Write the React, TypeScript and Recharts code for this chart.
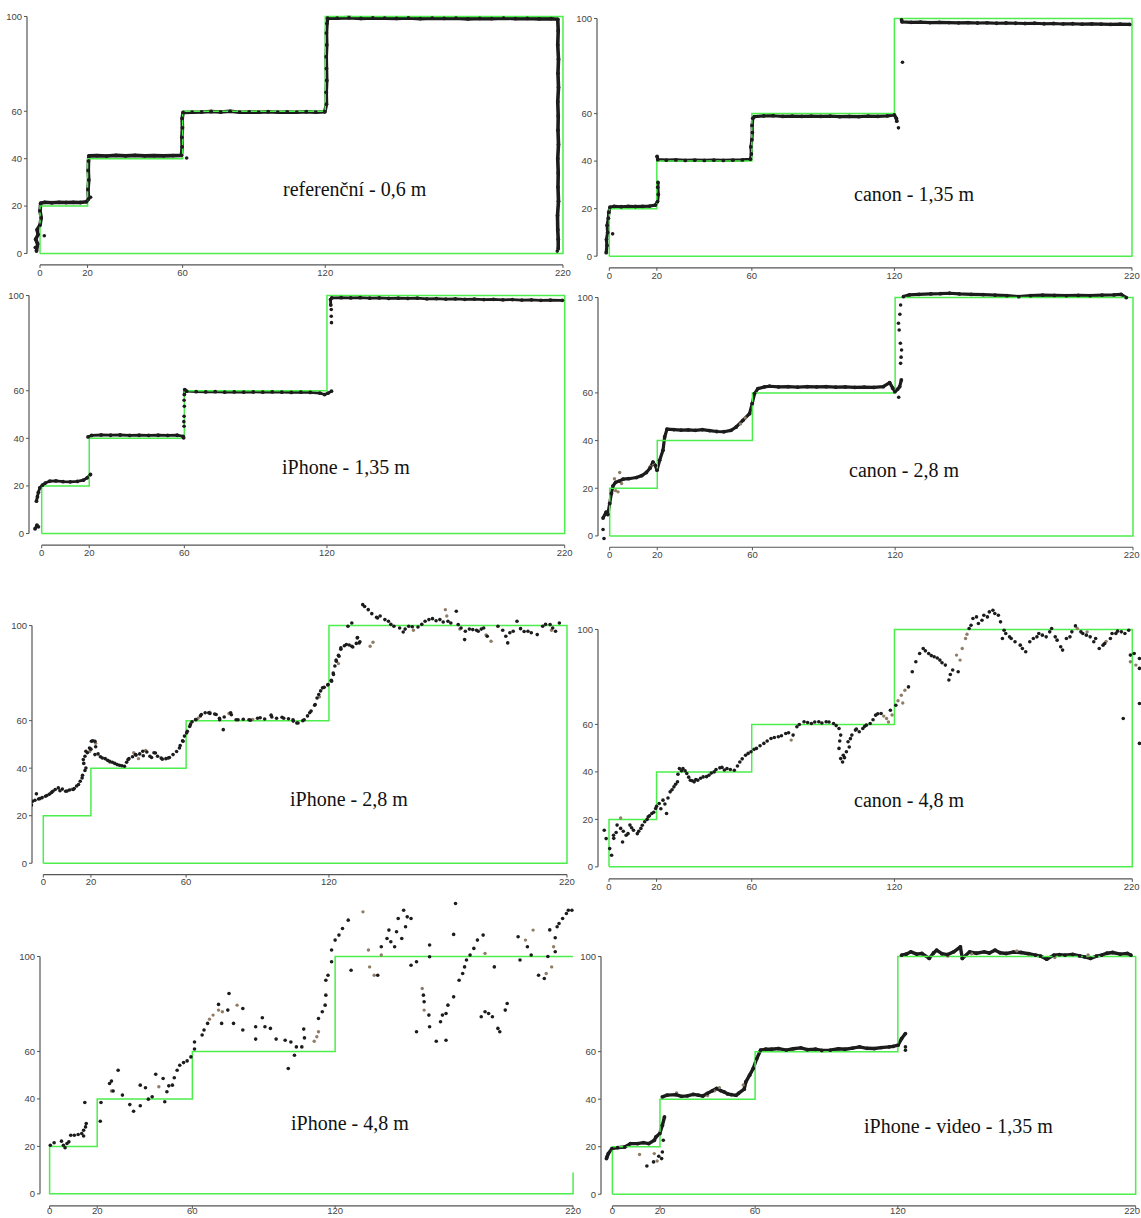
import { ComposedChart, Line, Scatter, XAxis, YAxis, ReferenceLine } from "recharts";

type Pt = [number, number] | null;

const xTicks = [0, 20, 60, 120, 220];
const yTicks = [0, 20, 40, 60, 100];

// green target profile
const profile: Pt[] = [[0, 0], [0, 20], [20, 20], [20, 40], [60, 40], [60, 60], [120, 60], [120, 100], [220, 100], [220, 0], [0, 0]];
// same profile, right edge only partly drawn (iPhone 4,8 m)
const profileOpen: Pt[] = [[220, 9], [220, 0], [0, 0], [0, 20], [20, 20], [20, 40], [60, 40], [60, 60], [120, 60], [120, 100], [220, 100]];

// referenční - 0,6 m
const refTrace: Pt[] = [
  [-1.5, 1], [-1, 4], [-1.8, 6], [-0.8, 8], [-1.2, 10], [0, 12], [0.5, 15], [0, 18], [0.3, 21.2], [2, 21.6], [5, 21.4], [8, 21.6],
  [11, 21.5], [14, 21.6], [17, 21.5], [19.5, 21.8], [20.4, 23], [20.2, 27], [20.5, 31], [20.3, 35], [20.4, 39], [20.6, 41.2],
  [24, 41.3], [28, 41.1], [32, 41.4], [36, 41.2], [40, 41.4], [44, 41.2], [48, 41.3], [52, 41.2], [56, 41.3], [59.5, 41.4],
  [59.8, 45], [59.7, 49], [59.9, 53], [59.8, 57], [60.2, 59.5], [64, 59.6], [68, 59.7], [72, 59.9], [76, 59.7], [80, 60],
  [84, 59.6], [88, 59.7], [92, 59.6], [96, 59.8], [100, 59.6], [104, 59.7], [108, 59.6], [112, 59.8], [116, 59.6], [119.8, 59.8],
  [120.5, 63], [120.4, 68], [120.6, 73], [120.5, 78], [120.4, 83], [120.6, 88], [120.5, 93], [120.7, 97], [121, 99.3],
  [125, 99.3], [130, 99.5], [135, 99.2], [140, 99.4], [145, 99.3], [150, 99.2], [155, 99.4], [160, 99.1], [165, 99.3],
  [170, 99.2], [175, 99.3], [180, 99], [185, 99.2], [190, 99.1], [195, 99.3], [200, 99.1], [205, 99.2], [210, 99], [215, 99.1],
  [217.8, 98.8], [218, 94], [217.8, 88], [218.1, 82], [217.9, 76], [218.1, 70], [217.8, 64], [218, 58], [217.9, 52], [218.1, 46],
  [217.8, 40], [218, 34], [217.9, 28], [218.1, 22], [217.7, 16], [217.8, 10], [218, 6], [218, 2],
];
const refStray: Pt[] = [[1.8, 7.5], [21.3, 23.7], [61.7, 40.3], [-2, 2.5], [217.6, 1]];

// canon - 1,35 m
const canon135Trace: Pt[] = [
  [-1.3, 1.5], [-1, 4.5], [-1.2, 7], [-0.7, 10], [-0.9, 13], [-0.4, 16], [-0.2, 18.5], [0.3, 20.6], [2, 21], [5, 20.8], [8, 21],
  [11, 20.9], [14, 21], [17, 21.1], [19.4, 21.5], [20.3, 23], [20.6, 26], [20.4, 29], [20.5, 31], null,
  [20.1, 42], [20.4, 40.6], [24, 40.4], [28, 40.5], [32, 40.3], [36, 40.4], [40, 40.3], [44, 40.4], [48, 40.3], [52, 40.4],
  [56, 40.5], [59.4, 40.8], [59.8, 43], [59.6, 46], [60, 49], [60.2, 52], [60.1, 55], [60.4, 58], [61, 58.7], [65, 59], [69, 59.1],
  [73, 58.8], [77, 58.9], [81, 58.8], [85, 58.9], [89, 58.8], [93, 58.9], [97, 58.7], [101, 58.8], [105, 58.7], [109, 58.9],
  [113, 58.8], [117, 59], [120, 59.4], [120.8, 58], [121, 56.8], null,
  [123, 99.4], [123.2, 98.6], [127, 98.4], [131, 98.5], [135, 98.3], [139, 98.4], [143, 98.3], [147, 98.2], [151, 98.3],
  [155, 98.1], [159, 98.2], [163, 98], [167, 98.1], [171, 98], [175, 97.9], [179, 98], [183, 97.8], [187, 97.9], [191, 97.7],
  [195, 97.8], [199, 97.6], [203, 97.7], [207, 97.6], [211, 97.5], [215, 97.6], [219, 97.5],
];
const canon135Stray: Pt[] = [[1.4, 9.4], [121.7, 54], [123.4, 81.6]];

// iPhone - 1,35 m
const iphone135Trace: Pt[] = [
  [-2.8, 2], [-2, 3.5], [-1.4, 2.8], null,
  [-2.2, 13.6], [-1.8, 15.5], [-1.4, 17.3], [-0.8, 19.2], [0.3, 20.3], [1.5, 21.2], [3.4, 22], [6, 22.1], [9, 21.8], [12, 21.7],
  [15, 21.9], [17.5, 22.4], [19.1, 23.4], [20.5, 24.8], null,
  [19.5, 40.6], [21, 41.2], [25, 41.4], [29, 41.3], [33, 41.4], [37, 41.2], [41, 41.3], [45, 41.2], [49, 41.3], [53, 41.2],
  [57, 41.3], [59.5, 40.8], [59.7, 40.2], null,
  [60, 58.4], [60.2, 60.5], [61, 59.8], [65, 59.6], [69, 59.5], [73, 59.6], [77, 59.4], [81, 59.5], [85, 59.4], [89, 59.5],
  [93, 59.4], [97, 59.5], [101, 59.4], [105, 59.3], [109, 59.4], [113, 59.3], [117, 59], [119, 58.4], [120.5, 59], [121.9, 59.8], null,
  [121.6, 96], [121.5, 98.3], [122, 99], [126, 99.1], [130, 99], [134, 99.1], [138, 98.9], [142, 99], [146, 98.8], [150, 98.9],
  [154, 98.8], [158, 98.9], [162, 98.6], [166, 98.7], [170, 98.5], [174, 98.6], [178, 98.4], [182, 98.5], [186, 98.3],
  [190, 98.4], [194, 98.2], [198, 98.3], [202, 98.1], [206, 98.2], [210, 98], [214, 98.1], [219, 98],
];
const iphone135Stray: Pt[] = [
  [59.9, 45.1], [59.8, 47], [59.9, 49.3], [60, 53.5], [59.9, 56], [121.8, 94.1], [121.8, 91.3], [121.9, 88.6],
];

// canon - 2,8 m
const canon28Trace: Pt[] = [
  [-2.8, 7.5], [-1.5, 10], [-0.8, 9], [0, 13.6], [0.7, 17.8], [1.4, 21], [2.5, 22.5], [4, 23], [5.6, 23.8], [8, 24], [11.2, 24.5],
  [13.5, 25.3], [15.4, 26.6], [17, 28.5], [18.2, 31], [19.2, 29.5], [19.9, 27.6], [21, 31.7], [22.4, 35.9], [23.1, 41.5],
  [24.1, 44.8], [27, 44.6], [30, 44.4], [33, 44.5], [36, 44.3], [39, 44.6], [42, 44.2], [45, 43.8], [48, 43.7], [51, 44.3],
  [53.2, 45.7], [56, 48.5], [58.8, 51.3], [59.9, 55.5], [60.9, 59.7], [62.3, 61.8], [65, 62.5], [67.2, 62.8], [71, 62.5],
  [75, 62.6], [79, 62.4], [83, 62.6], [87, 62.5], [91, 62.6], [95, 62.4], [99, 62.5], [103, 62.3], [107, 62.4], [111, 62.3],
  [115, 62.6], [117.7, 64.3], [119, 62], [119.9, 60.5], [121, 61.5], [121.9, 62.6], [122.6, 65.4], null,
  [123.5, 100.4], [126, 101.1], [130, 101.3], [135, 101.5], [139, 101.6], [142.9, 101.8], [147, 101.5], [152, 101.3],
  [157, 101.2], [162, 101], [167, 100.8], [172, 100.4], [177, 100.8], [182, 101], [187, 100.9], [192, 100.8], [197, 100.9],
  [202, 100.8], [207, 101], [212, 101.1], [215, 101.3], [217.2, 100],
];
const canon28Stray: Pt[] = [
  [-2.4, -1.1], [-2.8, 2.7], [121.5, 58.2], [122.3, 72.4], [122.5, 75], [122.7, 78], [122.2, 80.8], [121.7, 86.4],
  [121.4, 89.2], [122, 93], [122.3, 96.9],
];
const canon28Tan: Pt[] = [[2.5, 19], [3.5, 18.5], [4.2, 26.6], [2, 24], [5, 22], [17, 29], [18.5, 30], [55, 47], [57, 49.5]];

// iPhone - 2,8 m
const iphone28Dark: Pt[] = [
  [-6, 23.3], [-5, 24.5], [-4.5, 26.1], [-3.5, 26.5], [-2.9, 29.2], [-2, 27], [-1.4, 27.2], [-0.5, 27.6], [0.9, 28.2], [1.5, 28.5],
  [2.5, 29], [3.5, 29.8], [4, 30.3], [5, 31], [6.3, 31.7], [7, 30.5], [8, 31.2], [9.4, 30.3], [10, 30.4], [11, 30.8], [12.5, 31],
  [13, 31.4], [14, 32.5], [14.8, 33.1], [15.5, 34.5], [16.3, 35.9], [16.5, 37], [17.5, 39], [17.9, 40.1], [16.8, 43.6], [17, 42],
  [17.5, 45], [17.9, 47.1], [18.5, 46.5], [19.4, 48.5], [20, 48], [20.2, 51.3], [20.8, 51.5], [21.7, 51.3], [22, 49], [21.7, 45.7],
  [23, 46], [24, 44.8], [24.8, 44.3], [26, 44], [27, 43.3], [27.9, 42.9], [29, 42.5], [30, 42], [31, 41.5], [32, 41.2], [33, 41],
  [34.1, 40.8], [35, 42.5], [35.6, 43.6], [36, 44], [37.5, 44.8], [38.7, 45.7], [39, 45.5], [40.5, 46], [41.8, 47.1], [42, 45.2],
  [43.5, 46.8], [44.8, 45], [45.5, 44.5], [46.5, 46.5], [47.1, 46.4], [48, 45], [49.5, 44.3], [50, 43.8], [51.5, 44], [52.5, 44.3],
  [53, 44.5], [54.5, 45.7], [56, 47], [57.2, 48.5], [57.5, 49.5], [58.5, 51.5], [58.7, 51.3], [59.3, 53.5], [60.2, 54.8],
  [60.5, 55.5], [61.5, 57.5], [61.8, 58.3], [62.5, 59.5], [64, 60.5], [64.1, 60.4], [66, 62], [66.4, 62.6], [68, 63.3],
  [69.5, 63.3], [70, 63], [72, 62.8], [72.6, 62.6], [74, 61], [74.1, 60.4], [75.6, 56.2], [76, 61.5], [78.7, 63.3], [79, 62.5],
  [81, 60.4], [81.8, 60.4], [84, 60.6], [86.4, 60.4], [87, 60.2], [90, 61], [91.1, 61.2], [93, 60.7], [95.7, 62.3], [96, 61.5],
  [98, 61], [100.3, 61.4], [101, 61], [103, 60.8], [104.9, 60.4], [105, 59.8], [106.5, 59], [107, 59], [109, 60], [109.6, 60.4],
  [111, 62], [111.9, 63.3], [112.5, 64], [114, 66.5], [114.2, 66.8], [115, 69.5], [115.7, 71], [116.5, 72.5], [117.3, 73.8],
  [118, 74], [119.5, 75], [119.6, 75.2], [121, 77], [121.1, 76.6], [121.8, 80], [121.9, 79.4], [122.5, 83], [123, 85.5],
  [123.1, 85], [124, 87.5], [124.2, 87.1], [125, 90], [125, 90.6], [126.5, 91.5], [127.3, 92], [128.5, 91.8], [129.6, 91.3],
  [130, 91], [131.5, 92.5], [132.7, 92.7], [133, 93.2], [131.9, 94.8], [132, 95],
  [128, 99.7], [129.6, 101.1], [134.2, 108.8], [135, 108], [136.5, 106.7], [138, 105], [140, 103.5], [140.4, 103.2],
  [141.5, 104], [143.5, 102.5], [145, 101.8], [146, 100.5], [147.3, 99.7], [149.7, 99], [151.2, 97.3], [152, 98.5],
  [153.5, 99.7], [155, 99.5], [157.4, 99.4], [159, 100.5], [160.4, 101.8], [162, 102.5], [163.5, 102.9], [165, 102],
  [166.6, 102.5], [168, 101.5], [170, 101.8], [171.2, 101.1], [173.5, 106], [174.3, 100.4], [175.5, 99], [177.3, 97.6],
  [177, 94.1], [179, 98.5], [180.4, 98.3], [182, 98], [182.7, 97.6], [184, 98.5], [185, 99], [186.5, 95.5], [191, 99.7],
  [193, 98], [194.3, 95.5], [195.1, 92.7], [196, 97], [197.4, 97.6], [199, 101.8], [200.5, 98.7], [202, 97.5], [203.6, 97.6],
  [205, 97], [207.5, 96.2], [209.8, 99.7], [211, 100.5], [212.9, 100.4], [214, 99], [215.2, 97.6], [216.8, 101.1],
];
const iphone28Tan: Pt[] = [
  [3, 29.5], [12, 31.2], [19.5, 47], [22, 50.5], [28, 42.5], [38, 46.5], [40, 44], [43, 47.5], [62, 59], [65, 61], [70, 63.5],
  [78, 63], [88, 60.5], [116, 70], [124, 84], [137.3, 91.3], [138.5, 93], [155.5, 98], [168.9, 106.7], [169.5, 104],
  [175, 98.5], [186, 96], [188.1, 93.4], [213.5, 98],
];

// canon - 4,8 m
const canon48Dark: Pt[] = [
  [-1.2, 11.9], [-2, 15.4], [0.3, 7.7], [1.1, 4.9], [1.9, 13.3], [2, 12], [3, 14.5], [3.4, 17.6], [4.9, 16.2], [5.7, 10.5],
  [6, 15], [7.2, 13.3], [8, 14], [8.8, 17.6], [9.5, 16.5], [10.3, 15.4], [11.9, 14], [12.5, 15], [13.4, 16.2], [14, 17.5],
  [15, 19], [16, 20], [16.5, 21.1], [17, 21.5], [18, 22.5], [18.8, 23], [19.6, 24.6], [20, 25.5], [21.1, 26.7], [21.8, 24.5],
  [22.7, 28.1], [23.5, 26.5], [24.2, 22.5], [24.8, 29], [25.7, 31.6], [26.5, 32.5], [27.3, 33.7], [28, 34.8], [28.8, 35.8],
  [29, 39], [29.6, 41.4], [30.5, 40.5], [31.1, 41.4], [32, 40.5], [32.7, 39.3], [33.5, 37.8], [34.2, 36.5], [35, 36.3],
  [35.8, 35.8], [36.5, 36.8], [37.3, 36.5], [38.5, 37.3], [39.6, 37.9], [41, 38], [42, 38.6], [43, 39.5], [44.2, 40], [45, 41],
  [46.6, 41.7], [47.5, 41.9], [48.5, 40.8], [49.6, 41.4], [51, 41], [52.7, 40.7], [54, 42.5], [55, 44.2], [56, 45.5],
  [57.4, 47], [58.5, 47.8], [59.7, 48.5], [61, 49.5], [62, 49.9], [63.5, 51], [65.1, 52], [66.5, 53], [68.1, 54.1], [69.5, 54.5],
  [71.2, 54.8], [72.5, 55.2], [74.3, 56.2], [75.5, 56.5], [77.4, 55.5], [79, 59], [80, 60], [82, 61.1], [83.5, 60.8],
  [85.1, 60.4], [86.5, 61], [88.2, 61.1], [89.5, 60.6], [91.3, 61.1], [92.5, 61], [94.4, 60.4], [95.5, 59.5], [96.7, 58.3],
  [97.4, 55.5], [97, 53], [96.7, 49.9], [97.4, 45.6], [98.2, 44.2], [98.5, 47], [99, 46], [99.8, 48.5], [100.5, 52.7],
  [101, 50.5], [101.5, 54], [102.1, 55.5], [103.6, 57.6], [104, 58], [105.2, 56.9], [106.7, 58.3], [107.5, 59.2], [108.2, 59.7],
  [109.8, 60.4], [111, 62], [112.1, 63.9], [113, 64.5], [114.4, 64.6], [118.3, 66], [120.6, 68.1], [125.9, 75.8],
  [127.5, 82.2], [129, 86.4], [130.6, 89.9], [132.1, 92], [133, 91], [134.4, 89.9], [135.5, 89], [136.7, 88.5], [138, 88],
  [139.1, 87.1], [140, 86], [141.4, 85], [142.9, 78.7], [143.5, 81], [144.5, 82.9], [146.8, 82.2], [151.4, 100.4],
  [152.2, 101.8], [153, 104.6], [154.5, 105.3], [155.3, 102.5], [156.8, 103.9], [157.6, 106], [159.1, 105.3], [159.9, 107.4],
  [161.4, 108.1], [162.2, 106.7], [163.7, 106], [164.6, 103.2], [166.1, 99.7], [165.4, 96.2], [166.8, 98.3], [168.4, 96.9],
  [169.1, 96.2], [170.7, 94.8], [172.9, 93.4], [173.8, 92], [175.2, 90.6], [176.9, 94.8], [178.4, 96.2], [179.9, 96.9],
  [180.7, 98.3], [182.2, 97.6], [183.8, 96.9], [185.3, 99], [186.1, 100.4], [187.6, 96.9], [188.4, 95.5], [189.9, 92.7],
  [190.7, 91.3], [192.3, 96.2], [193.8, 96.9], [194.6, 99], [196.1, 101.5], [198.4, 99], [199.2, 98.3], [200.7, 97.6],
  [202.3, 96.9], [203.8, 94.8], [204.6, 96.2], [206.1, 92], [207.7, 93.4], [208.4, 94.1], [210.8, 96.2], [211.5, 98.3],
  [213.1, 98.3], [213.8, 99.3], [215.4, 99], [216.9, 98.3], [218.5, 99.7], [219.2, 89.2], [220.8, 89.9], [223, 87.8],
  [223, 83.6], [223, 68.8], [216.2, 62.5], [223, 52],
];
const canon48Tan: Pt[] = [
  [4.9, 20.6], [76.6, 53.4], [115.5, 63.5], [116.7, 62.5], [117.5, 61], [119, 64], [121.5, 70], [122.9, 72.3], [124.4, 74.4],
  [123.5, 69], [146.1, 89.2], [147.6, 87.1], [148.5, 92], [149.9, 96.2], [150.5, 98], [196.9, 100.4], [201, 99], [209, 95],
  [219.2, 86.4], [221.5, 85],
];

// iPhone - 4,8 m
const iphone48Dark: Pt[] = [
  [0.3, 20.5], [1.9, 21.5], [5, 22.2], [5.8, 20.5], [6.5, 19.4], [7.3, 21.2], [8.1, 21.9], [8.9, 24.7], [10.4, 24.7], [12, 25],
  [13.5, 25.4], [14.3, 26.8], [15.1, 28.2], [15.4, 29.6], [14.8, 38.5], [14.3, 24.4], [21.3, 30.6], [21.6, 38.5], [25.2, 46.5],
  [26, 47.5], [28.8, 52.1], [26.7, 43.3], [30.6, 41.6], [33.7, 37.6], [35.3, 34.8], [38.1, 37.1], [38.1, 45.8], [40.3, 44.7],
  [41.5, 39.9], [43.1, 40.9], [44.6, 50.4], [47.7, 48.6], [48.4, 38.8], [49.3, 43], [50.1, 45.5], [51.6, 45.8], [52.4, 48.9],
  [53.6, 52.1], [54.7, 54.2], [56.3, 55.3], [57.8, 56], [59.4, 57.7], [60.9, 61], [60.9, 64], [64.1, 66.9], [64.9, 69],
  [66.4, 71.8], [72.3, 71.8], [71, 79.8], [75.4, 84.4], [74.9, 77.4], [81.2, 78.1], [77.3, 71.8], [81.2, 69], [86.6, 70.4],
  [86.6, 65.2], [89.4, 74.2], [90.5, 70.4], [92.8, 69.7], [95.2, 65.2], [99, 64.7], [101.4, 64], [100.3, 52.8], [102.9, 58.4],
  [103.7, 61.9], [106, 61.9], [106.8, 69.4], [107.1, 65.7], [113, 73.9], [114.6, 76.7], [115.8, 79.5], [116.1, 83.7],
  [116.1, 90], [117, 92.1], [118.5, 97.8], [118.5, 102.7], [120, 106.9], [121.6, 109], [123.1, 111.8], [125.5, 115.3],
  [126.7, 94.2], [137.9, 92.1], [139.4, 104.1], [141.8, 107.6], [142.6, 111.1], [143.4, 106.2], [145, 104.1], [145.8, 110.4],
  [146.5, 116], [148, 107.6], [148.8, 119.5], [149.6, 112.5], [150.3, 116.7], [151.9, 116], [151.9, 96.3], [154.2, 97.8],
  [157.1, 83.7], [157.4, 80.9], [154.2, 68.3], [159.4, 75.3], [159.7, 70.4], [159.7, 104.8], [159.7, 99.9], [162.5, 64.3],
  [164.3, 72.5], [165.1, 75.3], [166.6, 76], [167.4, 79.5], [166.6, 64.7], [169.8, 83], [170.6, 122.3], [169.8, 109.3],
  [172.1, 90], [173.6, 92.8], [174.4, 95.6], [175.2, 98.5], [176.7, 100.6], [178.3, 103.4], [179.8, 106.9], [182.2, 109],
  [181.4, 74.6], [183, 76.7], [184.5, 76], [186.1, 74.6], [188.4, 69.7], [189.2, 68.3], [186.9, 95.6], [192.3, 80.2],
  [191.5, 77.4], [197.7, 98.5], [196.9, 108.3], [200.8, 104.1], [202.4, 100.6], [205.5, 92.1], [207.9, 90.7], [209.4, 100],
  [210.2, 111.2], [212.5, 102], [212.5, 107.9], [213.3, 112.5], [214.1, 113.9], [215.6, 116], [217.2, 118.1], [218, 119.5],
  [219.5, 119.5],
];
const iphone48Tan: Pt[] = [
  [26, 43.3], [45.9, 45.1], [67.2, 73.6], [68.7, 75.3], [71, 77.4], [72.6, 76.7], [78.8, 79.5], [111.2, 64.3], [112.3, 66.2],
  [113, 68.3], [131.7, 118.8], [134, 102.7], [134.5, 95.6], [136.4, 92.1], [139.4, 100.6], [156.6, 86.5], [157.4, 77.4],
  [183, 101.3], [200, 106.9], [203.2, 111.1], [208.7, 92.8], [211, 95.6], [211.8, 104.1],
];

// iPhone - video - 1,35 m
const videoTrace: Pt[] = [
  [-2.5, 15], [-1.7, 17.1], [-0.2, 19.2], [2.2, 19.6], [5.2, 19.9], [7.6, 21.3], [10.6, 21.3], [13, 21.7], [15.3, 21.3],
  [17.6, 22.7], [18.3, 24.1], [19.9, 25.5], [21, 29], [21.9, 32.5], null,
  [21, 41], [23, 41.7], [26.8, 41.9], [29, 41.2], [31.5, 41.4], [34, 42], [36.1, 41.7], [38, 41.3], [39.9, 42.4], [42, 43.5],
  [43.8, 44.5], [45.5, 43.6], [46.9, 43.1], [48.5, 42.2], [50, 41.9], [52, 41.6], [53, 42.4], [55.4, 44.2], [56.1, 47.3],
  [57.7, 50.1], [59.2, 52.9], [60.7, 57.1], [62.3, 60.6], [64.5, 61], [66.9, 61], [70, 61.3], [73.1, 60.6], [76, 61.2],
  [79.2, 61.6], [82, 60.8], [85.4, 61], [88, 60.5], [91.6, 60.6], [95, 61.2], [97.8, 61], [101, 61.5], [103.9, 62], [107, 61.4],
  [110.1, 61.3], [113, 61.7], [116.3, 62], [118, 62.2], [120.1, 62.7], [121.6, 65.5], [123.2, 67.6], null,
  [121.6, 100.6], [123.5, 101], [125.5, 102], [128, 101], [130.1, 101.3], [133.2, 99.2], [135, 101.5], [136.3, 102.7],
  [138.5, 101.2], [140.9, 100.8], [143.5, 102], [146.3, 104.1], [147.1, 99.2], [150.2, 102], [153, 101.4], [156.3, 102],
  [158.5, 101.5], [160.9, 102.7], [163, 101.6], [165.6, 101.3], [168.5, 101.9], [171.8, 101.7], [175, 101.2], [177.9, 100.6],
  [180, 100.2], [182.6, 98.9], [185.6, 100.6], [188, 100.8], [190.3, 100.6], [193.5, 100.9], [196.4, 100.3], [198.5, 99.9],
  [201, 99.2], [203.5, 100.2], [205.7, 100.6], [208, 101.4], [210.3, 101.7], [213.5, 101], [216.5, 101.3], [218, 100.6],
];
const videoStray: Pt[] = [
  [21.4, 22.7], [21, 17.8], [20.7, 15], [17.3, 13.6], [14.5, 11.9], [19.5, 16], [123.2, 60.6], [123.2, 62], [-2.2, 16],
];
const videoTan: Pt[] = [
  [11.4, 16.7], [17.6, 17.1], [18.8, 14], [45, 44.8], [43, 43.5], [40, 41.5], [27, 42.6], [55, 46], [141, 100.2], [151, 101.2],
  [170, 102.4], [186, 99.6], [200, 100.7],
];

const toRows = (arr: Pt[]) => {
  let lastX = 0;
  return arr.map((p) => {
    if (!p) return { x: lastX, y: null };
    lastX = p[0];
    return { x: p[0], y: p[1] };
  });
};

const PAGE_W = 1141;
const PAGE_H = 1218;
const DARK = "#1c1c1c";
const TAN = "#8f7d68";
const GREEN = "#4bee4b";
const AXIS = "#555";
const TICK_FONT = "'Liberation Sans', Arial, sans-serif";
const FS = 9.5;
const YW = 34;
const XH = 22;
const RM = 4;

type Geo = { x0: number; x220: number; y100: number; y0: number; axX: number; axY: number; yMax: number };

const dotShape = (color: string, r: number) => (p: any) => <circle cx={p.cx} cy={p.cy} r={r} fill={color} />;

// x tick label, kept inside the page on the right and bottom edges
const xTick = (chartLeft: number, chartTop: number) => (p: any) => {
  const label = String(p.payload.value);
  const half = label.length * FS * 0.28;
  const overflow = chartLeft + p.x + half - (PAGE_W - 1);
  const x = overflow > 0 ? p.x - overflow : p.x;
  const lift = Math.max(0, chartTop + p.y + FS + 1 - PAGE_H);
  return (
    <text x={x} y={p.y - lift} dy="0.71em" textAnchor="middle" fontSize={FS} fill="#444" fontFamily={TICK_FONT}>
      {label}
    </text>
  );
};

function Panel({
  geo, title, tx, ty, trace, dark, tan, step, lineW,
}: {
  geo: Geo; title: string; tx: number; ty: number; trace?: Pt[]; dark?: Pt[]; tan?: Pt[]; step: Pt[]; lineW?: number;
}) {
  const { x0, x220, y100, y0, axX, axY, yMax } = geo;
  const sx = (x220 - x0) / 220;
  const sy = (y0 - y100) / 100;
  const xMin = (axX - x0) / sx;
  const yMin = -(axY - y0) / sy;
  const xMax = 225;
  const plotTop = y100 - (yMax - 100) * sy;
  const plotW = (xMax - xMin) * sx;
  const plotH = (yMax - yMin) * sy;
  const chartLeft = axX - YW;

  return (
    <>
      <div style={{ position: "absolute", left: chartLeft, top: plotTop }}>
        <ComposedChart width={plotW + YW + RM} height={plotH + XH} margin={{ top: 0, right: RM, bottom: 0, left: 0 }}>
          <XAxis
            type="number" dataKey="x" domain={[xMin, xMax]} allowDataOverflow ticks={xTicks} interval={0}
            axisLine={false} tickLine={{ stroke: AXIS }} tickSize={3} tickMargin={1}
            tick={xTick(chartLeft, plotTop)} height={XH}
          />
          <YAxis
            type="number" dataKey="y" domain={[yMin, yMax]} allowDataOverflow ticks={yTicks} interval={0}
            axisLine={false} tickLine={{ stroke: AXIS }} tickSize={3}
            tick={{ fontSize: FS, fill: "#444", fontFamily: TICK_FONT }} width={YW}
          />
          <ReferenceLine segment={[{ x: 0, y: yMin }, { x: 220, y: yMin }]} stroke={AXIS} strokeWidth={1.2} />
          <ReferenceLine segment={[{ x: xMin, y: 0 }, { x: xMin, y: 100 }]} stroke={AXIS} strokeWidth={1.2} />
          {tan && (
            <Scatter data={toRows(tan)} dataKey="y" shape={dotShape(TAN, 1.7)} isAnimationActive={false} />
          )}
          {dark && (
            <Scatter data={toRows(dark)} dataKey="y" shape={dotShape(DARK, 1.8)} isAnimationActive={false} />
          )}
          {trace && (
            <Line
              data={toRows(trace)} dataKey="y" type="linear" stroke={DARK} strokeWidth={lineW ?? 3}
              strokeLinejoin="round" dot={{ r: 1.9, fill: DARK, stroke: "none" }} activeDot={false}
              isAnimationActive={false}
            />
          )}
          <Line
            data={toRows(step)} dataKey="y" type="linear" stroke={GREEN} strokeWidth={1.5} dot={false}
            activeDot={false} isAnimationActive={false}
          />
        </ComposedChart>
      </div>
      <div
        style={{
          position: "absolute", left: tx, top: ty - 10, fontFamily: "'Liberation Serif', 'Times New Roman', serif",
          fontSize: 20, lineHeight: "20px", color: "#111", whiteSpace: "nowrap",
        }}
      >
        {title}
      </div>
    </>
  );
}

export default function App() {
  return (
    <div style={{ position: "absolute", left: 0, top: 0, width: PAGE_W, height: PAGE_H, background: "#fff", overflow: "hidden" }}>
      <Panel geo={{ x0: 40, x220: 563, y100: 16, y0: 253, axX: 27, axY: 264.5, yMax: 104 }}
        title="referenční - 0,6 m" tx={283} ty={189} trace={refTrace} dark={refStray} step={profile} lineW={3.6} />
      <Panel geo={{ x0: 609, x220: 1131.7, y100: 19, y0: 256.7, axX: 596.7, axY: 268.3, yMax: 104 }}
        title="canon - 1,35 m" tx={854} ty={194} trace={canon135Trace} dark={canon135Stray} step={profile} lineW={3.2} />
      <Panel geo={{ x0: 42, x220: 565, y100: 296, y0: 534, axX: 29.3, axY: 545.7, yMax: 104 }}
        title="iPhone - 1,35 m" tx={282} ty={467} trace={iphone135Trace} dark={iphone135Stray} step={profile} lineW={2.8} />
      <Panel geo={{ x0: 610, x220: 1133.3, y100: 297.3, y0: 535.7, axX: 598.3, axY: 547, yMax: 104 }}
        title="canon - 2,8 m" tx={849} ty={470} trace={canon28Trace} dark={canon28Stray} tan={canon28Tan} step={profile} lineW={3.2} />
      <Panel geo={{ x0: 43.6, x220: 567.3, y100: 626, y0: 863.7, axX: 32.3, axY: 875, yMax: 128 }}
        title="iPhone - 2,8 m" tx={290} ty={799} dark={iphone28Dark} tan={iphone28Tan} step={profile} />
      <Panel geo={{ x0: 609.3, x220: 1132.6, y100: 629.3, y0: 866.7, axX: 598.3, axY: 878.7, yMax: 128 }}
        title="canon - 4,8 m" tx={854} ty={800} dark={canon48Dark} tan={canon48Tan} step={profile} />
      <Panel geo={{ x0: 49.2, x220: 572.7, y100: 956.3, y0: 1193.7, axX: 39.6, axY: 1205.7, yMax: 128 }}
        title="iPhone - 4,8 m" tx={291} ty={1123} dark={iphone48Dark} tan={iphone48Tan} step={profileOpen} />
      <Panel geo={{ x0: 612.2, x220: 1135.5, y100: 956.3, y0: 1194, axX: 600.8, axY: 1205.7, yMax: 128 }}
        title="iPhone - video - 1,35 m" tx={864} ty={1126} trace={videoTrace} dark={videoStray} tan={videoTan} step={profile} lineW={3.4} />
    </div>
  );
}
